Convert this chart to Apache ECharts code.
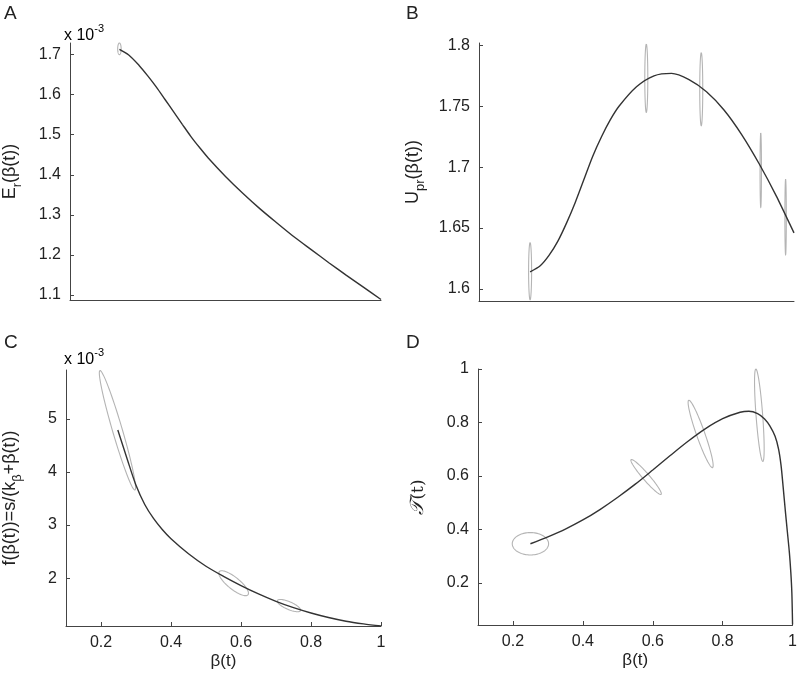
<!DOCTYPE html>
<html>
<head>
<meta charset="utf-8">
<script src="https://cdn.jsdelivr.net/npm/echarts@6/dist/echarts.min.js"></script>
<style>
  html, body { margin: 0; padding: 0; background: #fff; }
  #main { width: 800px; height: 680px; }
</style>
</head>
<body>
<div id="main"></div>
<script>
// panel A: E_r(beta(t)), values x 10^-3
var betaA = [0.243, 0.27, 0.3, 0.325, 0.35, 0.375, 0.4, 0.425, 0.45, 0.475, 0.5, 0.55, 0.6, 0.65, 0.7, 0.75, 0.8, 0.85, 0.9, 0.95, 1.0];
var erA   = [1.713, 1.699, 1.673, 1.647, 1.619, 1.588, 1.557, 1.526, 1.4955, 1.468, 1.442, 1.396, 1.354, 1.315, 1.279, 1.244, 1.212, 1.18, 1.149, 1.119, 1.0887];

// panel B: U_pr(beta(t))
var betaB = [0.246, 0.275, 0.3, 0.325, 0.35, 0.375, 0.4, 0.425, 0.45, 0.475, 0.5, 0.55, 0.6, 0.65, 0.7, 0.75, 0.8, 0.85, 0.9, 0.95, 1.0];
var uprB  = [1.614, 1.619, 1.6275, 1.639, 1.654, 1.671, 1.690, 1.709, 1.725, 1.7388, 1.750, 1.766, 1.775, 1.777, 1.772, 1.762, 1.747, 1.727, 1.703, 1.676, 1.646];

// panel C: f(beta(t)), values x 10^-3
var betaC = [0.248, 0.275, 0.3, 0.325, 0.35, 0.375, 0.4, 0.45, 0.5, 0.55, 0.6, 0.65, 0.7, 0.75, 0.8, 0.85, 0.9, 0.95, 1.0];
var fC    = [4.79, 4.24, 3.75, 3.388, 3.125, 2.917, 2.743, 2.46, 2.225, 2.035, 1.862, 1.705, 1.565, 1.445, 1.345, 1.26, 1.19, 1.14, 1.10];

// panel D: T(t) against beta(t)
var betaD = [0.25, 0.3, 0.35, 0.4, 0.45, 0.5, 0.55, 0.6, 0.65, 0.7, 0.75, 0.8, 0.85, 0.875, 0.9, 0.92, 0.935, 0.95, 0.96, 0.967, 0.973, 0.979, 0.985, 0.991, 0.995, 0.998, 1.0];
var tD    = [0.346, 0.372, 0.401, 0.435, 0.475, 0.52, 0.569, 0.622, 0.676, 0.7285, 0.776, 0.814, 0.838, 0.842, 0.833, 0.813, 0.787, 0.748, 0.700, 0.640, 0.56, 0.474, 0.393, 0.312, 0.24, 0.163, 0.044];

// confidence ellipses: [centre beta, centre y, major-axis end beta, major-axis end y, minor half-width in beta units]
var ellA = [[0.243, 1.7145, 0.243, 1.729, 0.005]];
var ellB = [
  [0.246, 1.6145, 0.246, 1.638, 0.0043],
  [0.578, 1.773, 0.578, 1.801, 0.0043],
  [0.735, 1.764, 0.735, 1.794, 0.0043],
  [0.905, 1.6975, 0.905, 1.728, 0.002],
  [0.976, 1.659, 0.976, 1.69, 0.002]
];
var ellC = [
  [0.247, 4.785, 0.197, 5.91, 0.014],
  [0.579, 1.906, 0.538, 2.124, 0.017],
  [0.737, 1.484, 0.704, 1.578, 0.011]
];
var ellD = [
  [0.25, 0.346, 0.302, 0.346, 0.032],
  [0.581, 0.596, 0.538, 0.661, 0.0095],
  [0.737, 0.757, 0.703, 0.883, 0.012],
  [0.905, 0.827, 0.895, 1.0, 0.0095]
];

// tick values
var xTicks  = [0.2, 0.4, 0.6, 0.8, 1];
var yTicksA = [1.1, 1.2, 1.3, 1.4, 1.5, 1.6, 1.7];
var yTicksB = [1.6, 1.65, 1.7, 1.75, 1.8];
var yTicksC = [2, 3, 4, 5];
var yTicksD = [0.2, 0.4, 0.6, 0.8, 1];

var FONT = 'Liberation Sans, Arial, Helvetica, sans-serif';
var TEXT_COLOR = '#222';
var AXIS_COLOR = '#444';
var LINE_COLOR = '#333';
var ELL_COLOR = '#b4b4b4';

function zip(xs, ys) {
  return xs.map(function (x, i) { return [x, ys[i]]; });
}

var nameRich = {
  n: { fontSize: 18, lineHeight: 23, verticalAlign: 'top', fontFamily: FONT, color: TEXT_COLOR },
  s: { fontSize: 13, lineHeight: 13, verticalAlign: 'bottom', fontFamily: FONT, color: TEXT_COLOR }
};

function xAxis(idx, labelled) {
  return {
    type: 'value', gridIndex: idx, min: 0.1, max: 1,
    name: labelled ? 'β(t)' : '',
    nameLocation: 'middle', nameGap: 27,
    nameTextStyle: { fontSize: 17, fontFamily: FONT, color: TEXT_COLOR },
    axisLine: { show: true, onZero: false, lineStyle: { color: AXIS_COLOR, width: 1 } },
    axisTick: { show: labelled, inside: true, length: 4, customValues: xTicks, lineStyle: { color: AXIS_COLOR } },
    axisLabel: { show: labelled, customValues: xTicks, margin: 9, fontSize: 16, fontFamily: FONT, color: TEXT_COLOR },
    splitLine: { show: false }
  };
}

function yAxis(idx, min, max, ticks, name, gap, rich) {
  return {
    type: 'value', gridIndex: idx, min: min, max: max,
    name: name, nameLocation: 'middle', nameGap: gap, nameRotate: 90,
    nameTextStyle: { rich: rich || nameRich },
    axisLine: { show: true, onZero: false, lineStyle: { color: AXIS_COLOR, width: 1 } },
    axisTick: { show: true, inside: true, length: 4, customValues: ticks, lineStyle: { color: AXIS_COLOR } },
    axisLabel: { customValues: ticks, margin: 9, fontSize: 16, fontFamily: FONT, color: TEXT_COLOR },
    splitLine: { show: false }
  };
}

function curve(idx, data) {
  return {
    type: 'line', xAxisIndex: idx, yAxisIndex: idx, data: data,
    showSymbol: false, smooth: 0.3, z: 3,
    lineStyle: { color: LINE_COLOR, width: 1.4 }
  };
}

function ellipses(idx, rows) {
  return {
    type: 'custom', xAxisIndex: idx, yAxisIndex: idx, data: rows, z: 2,
    encode: { x: [0, 2], y: [1, 3] },
    renderItem: function (params, api) {
      var c = api.coord([api.value(0), api.value(1)]);
      var e = api.coord([api.value(2), api.value(3)]);
      var b = api.size([api.value(4), 0])[0];
      var dx = e[0] - c[0], dy = e[1] - c[1];
      var a = Math.sqrt(dx * dx + dy * dy);
      var ang = Math.atan2(dy, dx);
      var ca = Math.cos(ang), sa = Math.sin(ang);
      var pts = [];
      for (var k = 0; k <= 90; k++) {
        var t = k / 90 * Math.PI * 2;
        var px = a * Math.cos(t), py = b * Math.sin(t);
        pts.push([c[0] + px * ca - py * sa, c[1] + px * sa + py * ca]);
      }
      return {
        type: 'polyline', shape: { points: pts },
        style: { fill: null, stroke: ELL_COLOR, lineWidth: 1.1 }
      };
    }
  };
}

var chart = echarts.init(document.getElementById('main'), null, { renderer: 'canvas' });

var supRich = {
  n: { fontSize: 16, lineHeight: 21, verticalAlign: 'bottom', fontFamily: FONT, color: TEXT_COLOR },
  p: { fontSize: 11, lineHeight: 11, verticalAlign: 'top', fontFamily: FONT, color: TEXT_COLOR }
};

var option = {
  backgroundColor: '#fff',
  animation: false,
  grid: [
    { left: 66, top: 43, width: 315, height: 257 },
    { left: 479, top: 43, width: 315, height: 258 },
    { left: 66, top: 370, width: 315, height: 256 },
    { left: 478, top: 369, width: 315, height: 256 }
  ],
  xAxis: [xAxis(0, false), xAxis(1, false), xAxis(2, true), xAxis(3, true)],
  yAxis: [
    yAxis(0, 1.0875, 1.729, yTicksA, '{n|E}{s|r}{n|(β(t))}', 46),
    yAxis(1, 1.59, 1.802, yTicksB, '{n|U}{s|pr}{n|(β(t))}', 52),
    yAxis(2, 1.1, 5.92, yTicksC, '{n|f(β(t))=s/(k}{s|β}{n|+β(t))}', 42),
    yAxis(3, 0.042, 1, yTicksD, '{t|𝒯}{m|(t)}', 50, {
      t: { fontSize: 19, fontStyle: 'italic', fontFamily: 'DejaVu Serif, serif', color: TEXT_COLOR },
      m: { fontSize: 17, fontFamily: 'DejaVu Serif, serif', color: TEXT_COLOR }
    })
  ],
  graphic: [
    { type: 'text', left: 4, top: 4, style: { text: 'A', fontSize: 19, fontFamily: FONT, fill: TEXT_COLOR } },
    { type: 'text', left: 406, top: 4, style: { text: 'B', fontSize: 19, fontFamily: FONT, fill: TEXT_COLOR } },
    { type: 'text', left: 4, top: 333, style: { text: 'C', fontSize: 19, fontFamily: FONT, fill: TEXT_COLOR } },
    { type: 'text', left: 406, top: 333, style: { text: 'D', fontSize: 19, fontFamily: FONT, fill: TEXT_COLOR } },
    { type: 'text', left: 64, top: 23, style: { text: '{n|x 10}{p|-3}', rich: supRich } },
    { type: 'text', left: 64, top: 347, style: { text: '{n|x 10}{p|-3}', rich: supRich } }
  ],
  series: [
    ellipses(0, ellA), curve(0, zip(betaA, erA)),
    ellipses(1, ellB), curve(1, zip(betaB, uprB)),
    ellipses(2, ellC), curve(2, zip(betaC, fC)),
    ellipses(3, ellD), curve(3, zip(betaD, tD))
  ]
};

chart.setOption(option);
</script>
</body>
</html>
